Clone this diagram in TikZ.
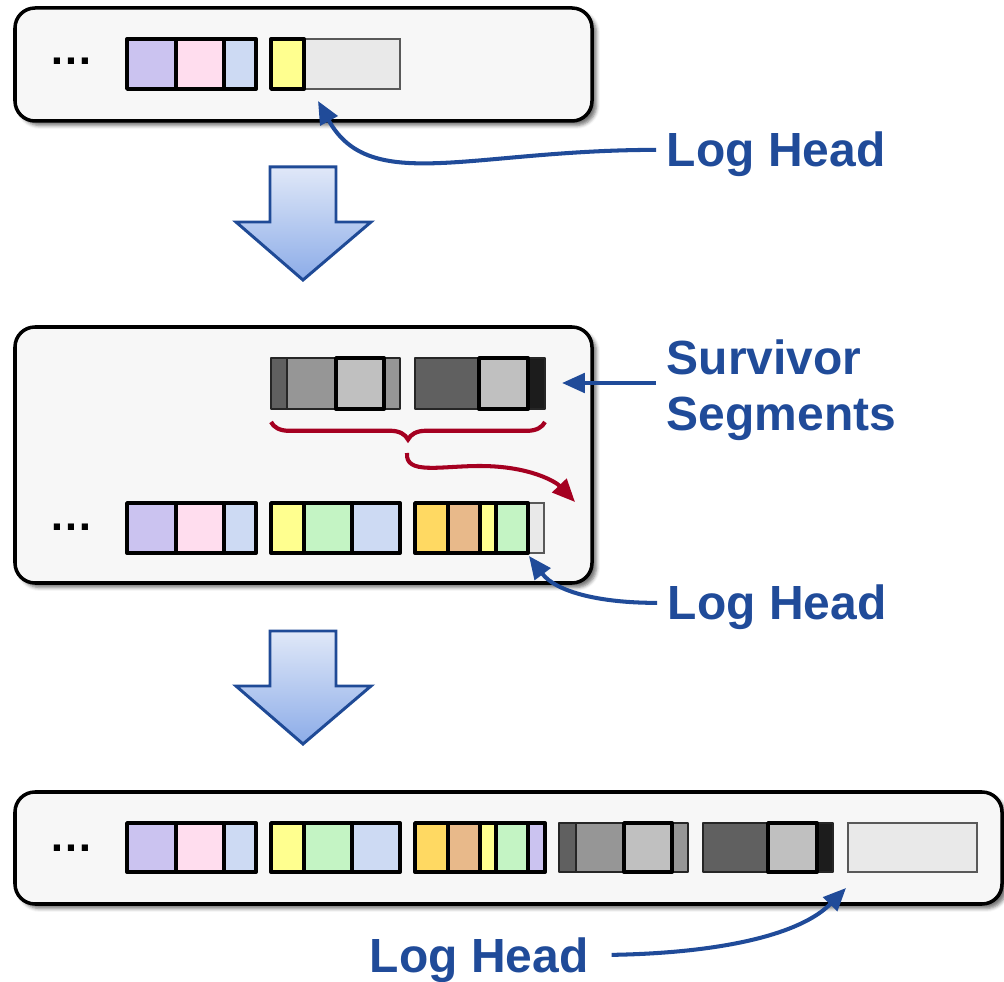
\documentclass[tikz,border=0pt]{standalone}
\usepackage{fontspec}
\setmainfont{Liberation Sans}
\usepackage{tikz}
\usetikzlibrary{arrows.meta, decorations.pathreplacing, shadows.blur}

\definecolor{panelbg}{RGB}{247,247,247}
\definecolor{cpurple}{RGB}{203,195,240}
\definecolor{cpink}{RGB}{255,221,238}
\definecolor{cblue}{RGB}{205,218,243}
\definecolor{cyellow}{RGB}{255,255,143}
\definecolor{cgreen}{RGB}{196,244,196}
\definecolor{corange}{RGB}{255,217,98}
\definecolor{ctan}{RGB}{232,185,138}
\definecolor{cfree}{RGB}{233,233,233}
\definecolor{gdark}{RGB}{96,96,96}
\definecolor{gmid}{RGB}{150,150,150}
\definecolor{glight}{RGB}{192,192,192}
\definecolor{gblack}{RGB}{28,28,28}
\definecolor{headblue}{RGB}{32,75,153}
\definecolor{mergered}{RGB}{165,0,33}
\definecolor{flowtop}{RGB}{224,232,248}
\definecolor{flowbot}{RGB}{140,172,232}
\definecolor{flowline}{RGB}{31,74,150}

\begin{document}
\begin{tikzpicture}[x=0.02cm, y=-0.02cm,
        panel/.style={draw=black, line width=2pt, fill=panelbg, rounded corners=0.4cm,
            blur shadow={shadow xshift=2.5pt, shadow yshift=-2.5pt, shadow blur radius=2pt, shadow opacity=55}},
        cell/.style={draw=black, line width=2.2pt, line join=round},
        oldcell/.style={draw=black!85, line width=1.1pt, line join=round},
        freecell/.style={draw=black!65, line width=0.9pt, fill=cfree},
        flow/.style={draw=flowline, line width=1.7pt, top color=flowtop, bottom color=flowbot},
        callout/.style={text=headblue, font=\fontsize{27.3}{32}\selectfont\bfseries, inner xsep=6pt, inner ysep=0pt},
        headtag/.style={callout, anchor=base west, text height=19.5pt, text depth=0pt},
        dots/.style={font=\fontsize{25}{30}\selectfont\bfseries, inner sep=0pt},
        pointer/.style={draw=headblue, line width=2.3pt, -{Triangle[length=13pt, width=11pt]}},
        merge/.style={draw=mergered, line width=2.3pt, -{Triangle[length=13pt, width=11pt]}},
        brace/.style={draw=mergered, line width=2.4pt, decorate, decoration={brace, amplitude=10pt}}]
        \useasboundingbox (0,0) rectangle (1004,982);

        \coordinate (topTip) at (318,101);
        \coordinate (midTip) at (529,556);
        \coordinate (botTip) at (846,888);
        \coordinate (survTip) at (562,383);
        \coordinate (braceTip) at (407,453);
        \coordinate (mergeTip) at (575,502);

        \draw[panel] (15,8) rectangle (592,121);
        \node[dots] (topDots) at (71,61) {…};
        \filldraw[cell, fill=cpurple] (127,39) rectangle (176,89);
        \filldraw[cell, fill=cpink] (176,39) rectangle (224,89);
        \filldraw[cell, fill=cblue] (224,39) rectangle (256,89);
        \filldraw[freecell] (304,39) rectangle (400,89);
        \filldraw[cell, fill=cyellow] (271,39) rectangle (304,89);

        \filldraw[flow] (270,167) -- (336,167) -- (336,222) -- (371,222) -- (303,280) -- (236,222) -- (270,222) -- cycle;

        \draw[panel] (15,327) rectangle (592,583);
        \filldraw[oldcell, fill=gdark] (271,358) rectangle (287,409);
        \filldraw[oldcell, fill=gmid] (287,358) rectangle (336,409);
        \filldraw[oldcell, fill=gmid] (384,358) rectangle (400,409);
        \filldraw[cell, fill=glight] (336,358) rectangle (384,409);
        \filldraw[oldcell, fill=gdark] (415,358) rectangle (479,409);
        \filldraw[oldcell, fill=gblack] (528,358) rectangle (545,409);
        \filldraw[cell, fill=glight] (479,358) rectangle (528,409);
        \draw[brace] (545,422) -- (271,422);

        \node[dots] (midDots) at (71,527) {…};
        \filldraw[cell, fill=cpurple] (127,503) rectangle (176,553);
        \filldraw[cell, fill=cpink] (176,503) rectangle (224,553);
        \filldraw[cell, fill=cblue] (224,503) rectangle (256,553);
        \filldraw[cell, fill=cyellow] (271,503) rectangle (304,553);
        \filldraw[cell, fill=cgreen] (304,503) rectangle (352,553);
        \filldraw[cell, fill=cblue] (352,503) rectangle (400,553);
        \filldraw[freecell] (528,503) rectangle (544,553);
        \filldraw[cell, fill=corange] (415,503) rectangle (448,553);
        \filldraw[cell, fill=ctan] (448,503) rectangle (480,553);
        \filldraw[cell, fill=cyellow] (480,503) rectangle (496,553);
        \filldraw[cell, fill=cgreen] (496,503) rectangle (528,553);

        \filldraw[flow] (270,631) -- (336,631) -- (336,686) -- (371,686) -- (303,744) -- (236,686) -- (270,686) -- cycle;

        \draw[panel] (15,792) rectangle (1002,904);
        \node[dots] (botDots) at (71,848) {…};
        \filldraw[cell, fill=cpurple] (127,823) rectangle (176,872);
        \filldraw[cell, fill=cpink] (176,823) rectangle (224,872);
        \filldraw[cell, fill=cblue] (224,823) rectangle (256,872);
        \filldraw[cell, fill=cyellow] (271,823) rectangle (304,872);
        \filldraw[cell, fill=cgreen] (304,823) rectangle (352,872);
        \filldraw[cell, fill=cblue] (352,823) rectangle (400,872);
        \filldraw[cell, fill=corange] (415,823) rectangle (448,872);
        \filldraw[cell, fill=ctan] (448,823) rectangle (480,872);
        \filldraw[cell, fill=cyellow] (480,823) rectangle (496,872);
        \filldraw[cell, fill=cgreen] (496,823) rectangle (528,872);
        \filldraw[cell, fill=cpurple] (528,823) rectangle (545,872);
        \filldraw[oldcell, fill=gdark] (559,823) rectangle (576,872);
        \filldraw[oldcell, fill=gmid] (576,823) rectangle (624,872);
        \filldraw[oldcell, fill=gmid] (672,823) rectangle (688,872);
        \filldraw[cell, fill=glight] (624,823) rectangle (672,872);
        \filldraw[oldcell, fill=gdark] (703,823) rectangle (768,872);
        \filldraw[oldcell, fill=gblack] (817,823) rectangle (833,872);
        \filldraw[cell, fill=glight] (768,823) rectangle (817,872);
        \filldraw[freecell] (848,823) rectangle (977,872);

        \node[headtag] (topHead) at (656,167) {Log Head};
        \node[callout, anchor=base west, align=left] (surv) at (656,431) {Survivor\\Segments};
        \node[headtag] (midHead) at (657,620) {Log Head};
        \node[headtag] (botHead) at (359,972) {Log Head};

        \draw[pointer] (topHead.west) .. controls (470,150) and (370,195) .. (topTip);
        \draw[pointer] (surv.west |- survTip) -- (survTip);
        \draw[pointer] (midHead.west) .. controls (600,603) and (556,592) .. (midTip);
        \draw[pointer] ([xshift=7pt]botHead.east) .. controls (720,953) and (800,935) .. (botTip);
        \draw[merge] (braceTip) .. controls (405,475) and (440,466) .. (480,466) .. controls (530,466) and (556,482) .. (mergeTip);
        \end{tikzpicture}
\end{document}
